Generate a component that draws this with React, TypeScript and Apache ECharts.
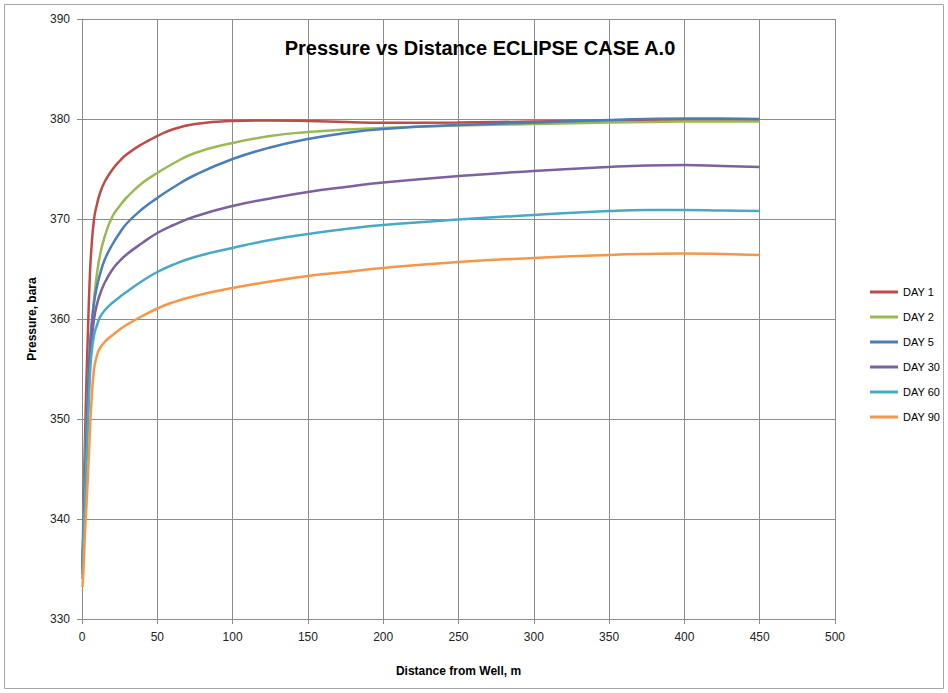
import React, { useEffect, useRef } from "react";
import * as echarts from "echarts";

const distances = [0.3, 1, 2, 3, 4, 5, 6, 8, 10, 12, 15, 20, 25, 30, 40, 50, 60, 75, 100, 125, 150, 175, 200, 250, 300, 350, 375, 400, 425, 450];

const day1 = [335, 341, 348, 354, 359, 363.5, 366.5, 370, 371.5, 372.6, 373.7, 374.9, 375.8, 376.5, 377.5, 378.3, 378.95, 379.5, 379.8, 379.85, 379.8, 379.7, 379.62, 379.65, 379.75, 379.85, 379.9, 379.9, 379.9, 379.9];
const day2 = [335, 339.5, 345, 349.5, 353, 356, 358.5, 362, 364.6, 366.4, 368.2, 370.2, 371.3, 372.2, 373.6, 374.6, 375.5, 376.6, 377.6, 378.3, 378.7, 378.95, 379.1, 379.35, 379.5, 379.65, 379.7, 379.75, 379.75, 379.75];
const day5 = [335, 339, 344, 349, 353, 356.5, 358.8, 361.6, 363.3, 364.5, 365.9, 367.4, 368.6, 369.6, 371.0, 372.1, 373.1, 374.4, 376.0, 377.15, 378.0, 378.6, 379.0, 379.4, 379.65, 379.9, 380.0, 380.05, 380.05, 380.0];
const day30 = [334.5, 338.5, 343, 347, 351, 355, 357.3, 360, 361.5, 362.5, 363.6, 364.9, 365.8, 366.5, 367.6, 368.6, 369.35, 370.25, 371.3, 372.05, 372.7, 373.2, 373.65, 374.3, 374.8, 375.2, 375.35, 375.4, 375.3, 375.2];
const day60 = [334, 338, 342, 346, 350, 353.5, 356, 358.4, 359.4, 360.2, 360.85, 361.6, 362.2, 362.75, 363.8, 364.7, 365.4, 366.2, 367.1, 367.9, 368.5, 369.0, 369.4, 369.95, 370.4, 370.8, 370.9, 370.9, 370.85, 370.8];
const day90 = [333.2, 335, 338.6, 341.5, 344.5, 348, 351, 355, 356.4, 357.1, 357.7, 358.35, 358.95, 359.45, 360.3, 361.05, 361.65, 362.3, 363.1, 363.75, 364.3, 364.7, 365.1, 365.7, 366.1, 366.4, 366.5, 366.55, 366.5, 366.4];

const seriesNames = ["DAY 1", "DAY 2", "DAY 5", "DAY 30", "DAY 60", "DAY 90"];
const seriesValues = [day1, day2, day5, day30, day60, day90];
const seriesColors = ["#BE4B48", "#98B954", "#4A7EBB", "#7D60A0", "#46AAC5", "#F79646"];

const titleText = "Pressure vs Distance ECLIPSE CASE A.0";
const xTitle = "Distance from Well, m";
const yTitle = "Pressure, bara";

const FONT = '"Liberation Sans", Arial, sans-serif';

export default function App() {
  const ref = useRef<HTMLDivElement>(null);

  useEffect(() => {
    if (!ref.current) return;
    const chart = echarts.init(ref.current, null, { renderer: "svg" });
    const gridColor = "#8c8c8c";
    chart.setOption({
      animation: false,
      backgroundColor: "#ffffff",
      textStyle: { fontFamily: FONT },
      grid: { left: 82, top: 19, right: 113, bottom: 74, containLabel: false },
      graphic: [
        {
          type: "rect",
          shape: { x: 4.5, y: 4.5, width: 939, height: 684 },
          style: { fill: "none", stroke: "#a6a6a6", lineWidth: 1 },
          silent: true,
        },
        {
          type: "text",
          x: 480,
          y: 48,
          style: {
            text: titleText,
            textAlign: "center",
            textVerticalAlign: "middle",
            font: `bold 20px ${FONT}`,
            fill: "#000000",
          },
          z: 10,
        },
      ],
      legend: {
        orient: "vertical",
        left: 865,
        top: 280,
        icon: "rect",
        itemWidth: 28,
        itemHeight: 3,
        itemGap: 11,
        data: seriesNames,
        textStyle: { fontFamily: FONT, fontSize: 11, color: "#000", lineHeight: 14 },
      },
      xAxis: {
        type: "value",
        min: 0,
        max: 500,
        interval: 50,
        name: xTitle,
        nameLocation: "middle",
        nameGap: 46,
        nameTextStyle: { fontFamily: FONT, fontSize: 12, fontWeight: "bold", color: "#000" },
        axisLine: { show: true, lineStyle: { color: gridColor, width: 1 } },
        axisTick: { show: true, inside: false, length: 5, lineStyle: { color: gridColor } },
        axisLabel: { fontFamily: FONT, fontSize: 12, color: "#222", margin: 12 },
        splitLine: { show: true, lineStyle: { color: gridColor, width: 1 } },
      },
      yAxis: {
        type: "value",
        min: 330,
        max: 390,
        interval: 10,
        name: yTitle,
        nameLocation: "middle",
        nameGap: 44,
        nameRotate: 90,
        nameTextStyle: { fontFamily: FONT, fontSize: 12, fontWeight: "bold", color: "#000" },
        axisLine: { show: true, lineStyle: { color: gridColor, width: 1 } },
        axisTick: { show: true, inside: false, length: 5, lineStyle: { color: gridColor } },
        axisLabel: { fontFamily: FONT, fontSize: 12, color: "#222", margin: 12 },
        splitLine: { show: true, lineStyle: { color: gridColor, width: 1 } },
      },
      series: seriesNames.map((name, i) => ({
        name,
        type: "line",
        data: distances.map((d, j) => [d, seriesValues[i][j]]),
        showSymbol: false,
        symbol: "none",
        smooth: 0.5,
        color: seriesColors[i],
        lineStyle: { color: seriesColors[i], width: 2.5 },
        itemStyle: { color: seriesColors[i] },
      })),
    });
    return () => chart.dispose();
  }, []);

  return (
    <div
      ref={ref}
      style={{ position: "absolute", left: 0, top: 0, width: 948, height: 693 }}
    />
  );
}
